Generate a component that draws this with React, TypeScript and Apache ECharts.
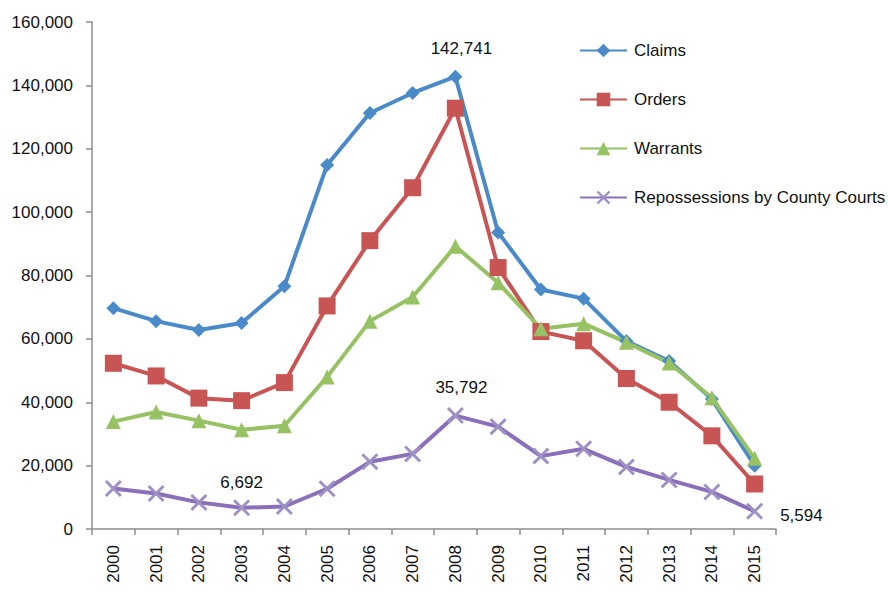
import React, { useEffect, useRef } from "react";
import * as echarts from "echarts";

const years = ["2000","2001","2002","2003","2004","2005","2006","2007","2008","2009","2010","2011","2012","2013","2014","2015"];
const claims = [69700, 65600, 62800, 65000, 76600, 114900, 131300, 137600, 142741, 93600, 75600, 72700, 59300, 53000, 41000, 20000];
const orders = [52300, 48300, 41300, 40500, 46200, 70400, 91000, 107700, 132800, 82500, 62300, 59400, 47500, 40000, 29400, 14200];
const warrants = [33900, 36900, 34200, 31300, 32600, 48000, 65600, 73200, 89200, 77700, 63200, 64800, 58900, 52400, 41400, 22300];
const reposs = [12800, 11200, 8400, 6692, 7100, 12700, 21200, 23700, 35792, 32300, 23000, 25300, 19600, 15500, 11700, 5594];
const yTicks = [0, 20000, 40000, 60000, 80000, 100000, 120000, 140000, 160000];

const FONT = "'Liberation Sans', Arial, sans-serif";
const crossPath = "path://M0,1.2L1.2,0L5,3.8L8.8,0L10,1.2L6.2,5L10,8.8L8.8,10L5,6.2L1.2,10L0,8.8L3.8,5Z";

const fmt = (v: number) => v.toLocaleString("en-US");

export default function App() {
  const ref = useRef<HTMLDivElement>(null);
  useEffect(() => {
    if (!ref.current) return;
    const chart = echarts.init(ref.current, null, { renderer: "svg" });
    const labelStyle = { color: "#111", fontSize: 17, fontFamily: FONT };
    const withLabel = (arr: number[], idxs: { i: number; pos: any; offset?: number[] }[]) =>
      arr.map((v, i) => {
        const m = idxs.find((d) => d.i === i);
        if (!m) return v;
        return {
          value: v,
          label: { show: true, position: m.pos, offset: m.offset || [0, 0], formatter: (p: any) => fmt(p.value), ...labelStyle },
        };
      });
    chart.setOption({
      animation: false,
      backgroundColor: "#ffffff",
      textStyle: { fontFamily: FONT },
      grid: { left: 92, top: 22, right: 112, bottom: 65, containLabel: false },
      legend: {
        orient: "vertical",
        left: 574,
        top: 37,
        itemWidth: 47,
        itemHeight: 17,
        itemGap: 32,
        textStyle: { color: "#111", fontSize: 17, fontFamily: FONT, padding: [0, 0, 0, 2] },
        data: ["Claims", "Orders", "Warrants", "Repossessions by County Courts"],
      },
      xAxis: {
        type: "category",
        data: years,
        boundaryGap: true,
        axisLine: { lineStyle: { color: "#8c8c8c", width: 1.5 } },
        axisTick: { show: true, length: 6, lineStyle: { color: "#8c8c8c", width: 1.5 } },
        axisLabel: { rotate: 90, color: "#111", fontSize: 17, fontFamily: FONT, margin: 16 },
      },
      yAxis: {
        type: "value",
        min: 0,
        max: 160000,
        interval: 20000,
        axisLine: { show: true, lineStyle: { color: "#8c8c8c", width: 1.5 } },
        axisTick: { show: true, length: 6, lineStyle: { color: "#8c8c8c", width: 1.5 } },
        splitLine: { show: false },
        axisLabel: { color: "#111", fontSize: 17, fontFamily: FONT, margin: 19, formatter: (v: number) => (yTicks.includes(v) ? fmt(v) : "") },
      },
      series: [
        {
          name: "Claims",
          type: "line",
          data: withLabel(claims, [{ i: 8, pos: "top", offset: [6, -8] }]),
          symbol: "diamond",
          symbolSize: 14,
          lineStyle: { width: 4, color: "#4a8ac8" },
          itemStyle: { color: "#4a8ac8" },
        },
        {
          name: "Orders",
          type: "line",
          data: orders,
          symbol: "rect",
          symbolSize: 17,
          lineStyle: { width: 4, color: "#c95454" },
          itemStyle: { color: "#c95454" },
        },
        {
          name: "Warrants",
          type: "line",
          data: warrants,
          symbol: "triangle",
          symbolSize: 15,
          lineStyle: { width: 4, color: "#97c263" },
          itemStyle: { color: "#97c263" },
        },
        {
          name: "Repossessions by County Courts",
          type: "line",
          data: withLabel(reposs, [
            { i: 3, pos: "top", offset: [0, -3] },
            { i: 8, pos: "top", offset: [6, -6] },
            { i: 15, pos: "right", offset: [12, 4] },
          ]),
          symbol: crossPath,
          symbolSize: 17,
          lineStyle: { width: 4, color: "#8a6fbb" },
          itemStyle: { color: "#9f90c4" },
        },
      ],
    });
    return () => chart.dispose();
  }, []);
  return <div ref={ref} style={{ width: 888, height: 594, position: "absolute", left: 0, top: 0 }} />;
}
